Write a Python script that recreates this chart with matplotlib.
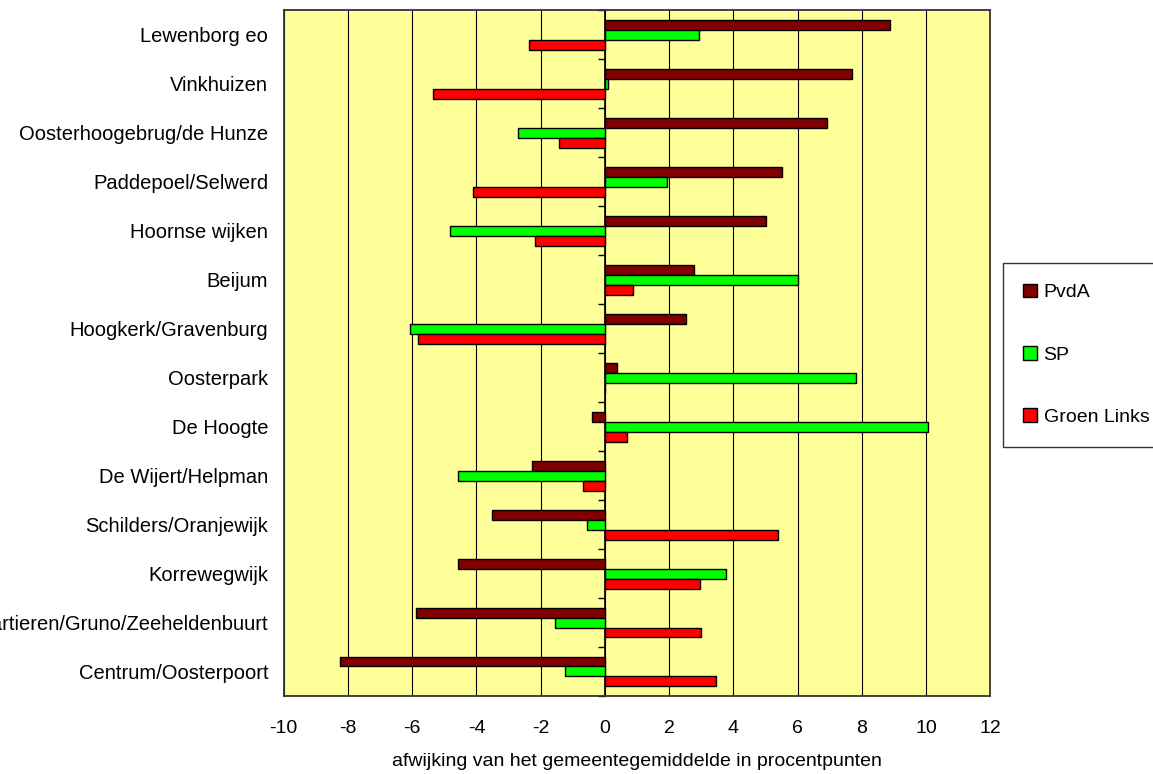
import matplotlib
matplotlib.use("Agg")
import matplotlib.pyplot as plt
import numpy as np

# =====================
# DATA
# =====================
wijken = ["Lewenborg eo", "Vinkhuizen", "Oosterhoogebrug/de Hunze", "Paddepoel/Selwerd",
          "Hoornse wijken", "Beijum", "Hoogkerk/Gravenburg", "Oosterpark", "De Hoogte",
          "De Wijert/Helpman", "Schilders/Oranjewijk", "Korrewegwijk",
          "Kwartieren/Gruno/Zeeheldenbuurt", "Centrum/Oosterpoort"]
pvda = [8.88, 7.70, 6.90, 5.52, 5.01, 2.76, 2.51, 0.39, -0.39, -2.26, -3.51, -4.58, -5.89, -8.26]
sp = [2.93, 0.11, -2.69, 1.94, -4.81, 6.01, -6.06, 7.82, 10.07, -4.57, -0.56, 3.76, -1.55, -1.25]
groen_links = [-2.36, -5.36, -1.44, -4.12, -2.18, 0.89, -5.82, 0.0, 0.69, -0.69, 5.39, 2.95, 3.00, 3.45]

reeksen = ["PvdA", "SP", "Groen Links"]
kleuren = ["#800000", "#00FF00", "#FF0000"]

plt.rcParams['font.family'] = ['Liberation Sans', 'DejaVu Sans']
plt.rcParams['axes.unicode_minus'] = False

# =====================
# PLOT
# =====================
fig = plt.figure(figsize=(11.53, 7.74), dpi=100)
ax = fig.add_axes([0.246, 0.1008, 0.613, 0.886])
ax.set_facecolor("#FFFF99")

n = len(wijken)
y = np.arange(n)[::-1].astype(float)
h = 0.204

for k, (vals, naam, kl) in enumerate(zip([pvda, sp, groen_links], reeksen, kleuren)):
    ax.barh(y + (1 - k) * h, vals, height=h, color=kl, edgecolor="black",
            linewidth=1.0, label=naam, zorder=3)

ax.set_xlim(-10, 12)
ax.set_ylim(-0.5, n - 0.5)
ax.set_xticks(np.arange(-10, 13, 2))
ax.grid(axis="x", color="black", linewidth=0.8, zorder=1)
ax.set_yticks(y)
ax.set_yticklabels(wijken)
ax.tick_params(axis="y", length=0, pad=11, labelsize=14.5)
ax.tick_params(axis="x", length=0, pad=17, labelsize=14)
for s in ax.spines.values():
    s.set_linewidth(1.3)
    s.set_color("#333333")

# verticale as bij 0 met streepjes tussen de wijken
nul = ax.secondary_yaxis(10 / 22)
nul.set_yticks(np.arange(-0.5, n, 1.0))
nul.tick_params(axis="y", length=5, direction="out", labelleft=False, width=1)
nul.spines["left"].set_linewidth(1.2)

ax.set_xlabel("afwijking van het gemeentegemiddelde in procentpunten", fontsize=14, labelpad=12)

fig.legend(loc="upper left", bbox_to_anchor=(0.8697, 0.10, 0.2, 0.5597), mode="expand",
           fontsize=14, frameon=True, fancybox=False, edgecolor="black",
           handlelength=0.7, handleheight=0.7, handletextpad=0.35,
           labelspacing=2.3, borderpad=1.05, borderaxespad=0)

plt.savefig("out.png", dpi=100)
